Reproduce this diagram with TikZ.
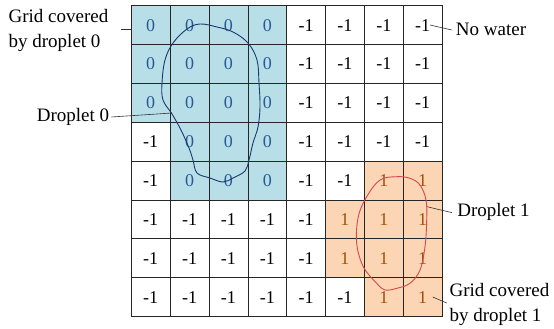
\documentclass[tikz,border=0pt]{standalone}
\usepackage{fontspec}
\setmainfont{Liberation Serif}
\newfontfamily\timesfont{Liberation Serif}
\begin{document}
\begin{tikzpicture}[x=1pt,y=-1pt,
  cellbox/.style={draw=black!85,line width=0.7pt,minimum size=38.85pt,inner sep=0pt,anchor=center,font=\timesfont\fontsize{18}{20}\selectfont},
  nowater/.style={cellbox,fill=white,text=black},
  blue0/.style={cellbox,fill=blueFill,text=blueText},
  orange1/.style={cellbox,fill=orangeFill,text=orangeText},
  lbl/.style={font=\timesfont\fontsize{19}{25}\selectfont,inner sep=0pt,align=left},
  leader/.style={draw=black!80,line width=0.6pt},
  droplet/.style={line width=0.9pt}]
\definecolor{blueFill}{HTML}{B8DEE8}
\definecolor{blueText}{HTML}{2A5A96}
\definecolor{orangeFill}{HTML}{FCD5B4}
\definecolor{orangeText}{HTML}{A0520A}
\definecolor{navyLine}{HTML}{1A3A6A}
\definecolor{redLine}{HTML}{D04A50}
\useasboundingbox (0,0) rectangle (554,329);
% grid: 0 = droplet 0, 1 = droplet 1, n = no water
\foreach \r/\row in {0/{0,0,0,0,n,n,n,n},1/{0,0,0,0,n,n,n,n},2/{0,0,0,0,n,n,n,n},3/{n,0,0,0,n,n,n,n},4/{n,0,0,0,n,n,1,1},5/{n,n,n,n,n,1,1,1},6/{n,n,n,n,n,1,1,1},7/{n,n,n,n,n,n,1,1}}{
  \foreach \v [count=\c from 0] in \row {
    \pgfmathsetmacro{\cx}{131.3+38.85*(\c+0.5)}
    \pgfmathsetmacro{\cy}{5.7+38.85*(\r+0.5)}
    \if n\v
      \node[nowater] (c-\r-\c) at (\cx,\cy) {-1};
    \else\if 0\v
      \node[blue0] (c-\r-\c) at (\cx,\cy) {0};
    \else
      \node[orange1] (c-\r-\c) at (\cx,\cy) {1};
    \fi\fi
  }
}
% droplet outlines
\draw[droplet,navyLine] plot[smooth cycle,tension=0.6] coordinates {(200,24) (217,27) (233,32) (248,43) (257,60) (259,83) (260,107) (258,127) (253,143) (249,160) (245,171) (233,178) (223,182) (210,178) (197,173) (193,160) (189,148) (181,130) (172,114) (163,100) (162,83) (165,60) (173,43) (187,29)};
\draw[droplet,redLine] plot[smooth cycle,tension=0.6] coordinates {(396.7,176.7) (410,178.3) (420,185) (426,200) (426.7,220) (425,246.7) (420,270) (410,283.3) (396.7,288.3) (385,290) (376.7,283.3) (363.3,266.7) (356.7,243.3) (358.3,216.7) (366.7,196.7) (380,180)};
% labels
\node[lbl] (gc0) at (58.5,30.5) {Grid covered\\by droplet 0};
\node[lbl] (d0) at (73,117) {Droplet 0};
\node[lbl] (nw) at (491,29) {No water};
\node[lbl] (d1) at (493.5,211.7) {Droplet 1};
\node[lbl] (gc1) at (499.5,304) {Grid covered\\by droplet 1};
\coordinate (gc0p) at (131.3,29);
\coordinate (d0p) at (172,113);
\coordinate (nwp) at (430,25);
\coordinate (d1p) at (427,206.7);
\coordinate (gc1p) at (432.7,297);
\draw[leader] (121,29) -- (gc0p);
\draw[leader] (d0.east) ++(2,0) -- (d0p);
\draw[leader] (nwp) -- ([xshift=-4pt,yshift=-1pt]nw.west);
\draw[leader] (d1p) -- ([xshift=-5pt,yshift=-1pt]d1.west);
\draw[leader] (gc1p) -- (446.7,303);
\end{tikzpicture}
\end{document}
